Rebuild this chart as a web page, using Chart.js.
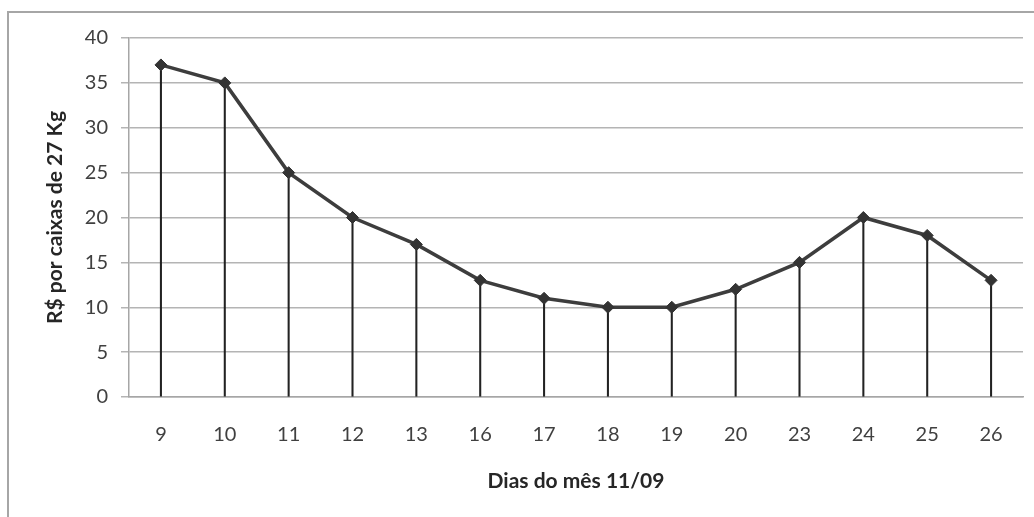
<!DOCTYPE html>
<html>
<head>
<meta charset="utf-8">
<script src="https://cdn.jsdelivr.net/npm/chart.js@4/dist/chart.umd.min.js"></script>
<style>
  html, body { margin: 0; padding: 0; background: #fff; }
  #wrap { position: relative; width: 1034px; height: 517px; overflow: hidden; }
  #frame { position: absolute; left: 7px; top: 11px; width: 1040px; height: 520px;
           border-left: 2px solid #a6a6a6; border-top: 2px solid #a6a6a6; }
  canvas { position: absolute; left: 0; top: 0; }
</style>
</head>
<body>
<div id="wrap">
  <div id="frame"></div>
  <canvas id="c" width="1034" height="517"></canvas>
</div>
<script>
const days = ['9','10','11','12','13','16','17','18','19','20','23','24','25','26'];
const prices = [37, 35, 25, 20, 17, 13, 11, 10, 10, 12, 15, 20, 18, 13];
const yTicks = [0, 5, 10, 15, 20, 25, 30, 35, 40];
const xTitle = 'Dias do mês 11/09';
const yTitle = 'R$ por caixas de 27 Kg';

const FONT = 'Lato, "Open Sans", sans-serif';

new Chart(document.getElementById('c'), {
  data: {
    labels: days,
    datasets: [
      {
        type: 'line',
        data: prices,
        borderColor: '#3d3d3d',
        borderWidth: 3.5,
        pointStyle: 'rectRot',
        pointRadius: 6,
        pointBackgroundColor: '#333333',
        pointBorderColor: '#333333',
        pointBorderWidth: 1,
        tension: 0,
        order: 0
      },
      {
        type: 'bar',
        data: prices,
        backgroundColor: '#222222',
        barThickness: 1.4,
        order: 1
      }
    ]
  },
  options: {
    responsive: false,
    animation: false,
    devicePixelRatio: 1,
    layout: { padding: { left: 40, right: 11, top: 38, bottom: 20 } },
    plugins: { legend: { display: false }, tooltip: { enabled: false } },
    scales: {
      x: {
        offset: true,
        afterFit: (s) => { s.height = 100; },
        grid: { display: false, drawTicks: false },
        border: { display: true, color: '#a6a6a6', width: 1.5 },
        ticks: { color: '#404040', padding: 26, font: { family: FONT, size: 20 } },
        title: {
          display: true, text: xTitle, color: '#262626',
          font: { family: FONT, size: 21, weight: 'bold' },
          padding: { top: 10, bottom: 3 }
        }
      },
      y: {
        min: 0, max: 40,
        afterBuildTicks: (s) => { s.ticks = yTicks.map(v => ({ value: v })); },
        afterFit: (s) => { s.width = 89; },
        grid: { color: '#b4b4b4', lineWidth: 1.5, tickLength: 8, drawTicks: true },
        border: { display: true, color: '#a6a6a6', width: 1.5 },
        ticks: { color: '#404040', padding: 13, font: { family: FONT, size: 20 } },
        title: {
          display: true, text: yTitle, color: '#262626',
          font: { family: FONT, size: 21, weight: 'bold' },
          padding: { top: 3, bottom: 4 }
        }
      }
    }
  }
});
</script>
</body>
</html>
